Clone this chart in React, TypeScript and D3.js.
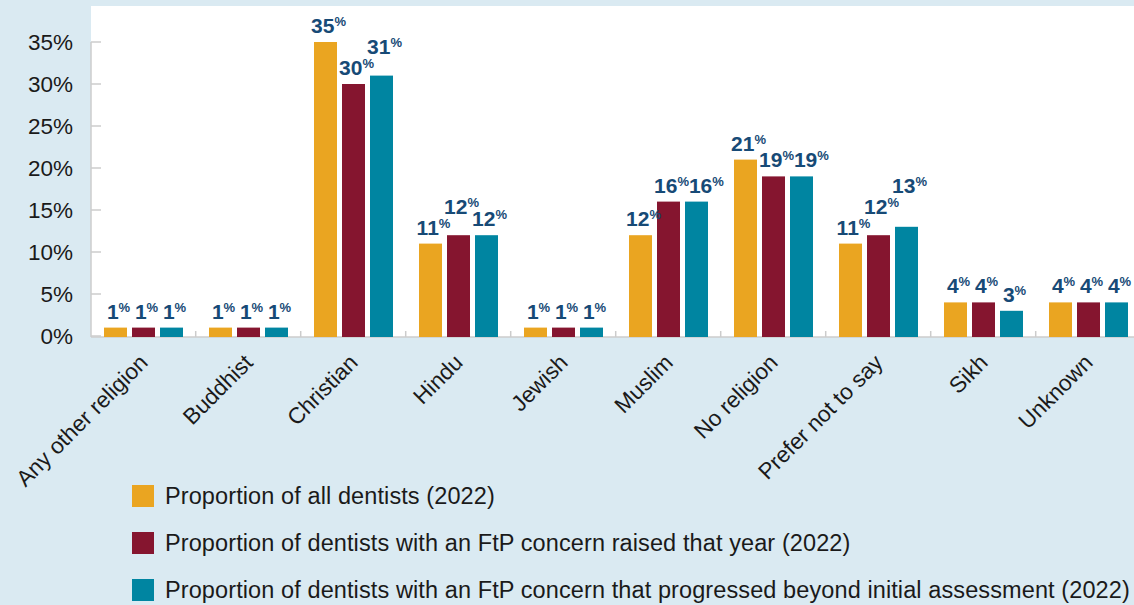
import React from "react";
import * as d3 from "d3";

const categories = ["Any other religion","Buddhist","Christian","Hindu","Jewish","Muslim","No religion","Prefer not to say","Sikh","Unknown"];
const allDentists = [1,1,35,11,1,12,21,11,4,4];
const ftpRaised = [1,1,30,12,1,16,19,12,4,4];
const ftpProgressed = [1,1,31,12,1,16,19,13,3,4];
const seriesNames = [
  "Proportion of all dentists (2022)",
  "Proportion of dentists with an FtP concern raised that year (2022)",
  "Proportion of dentists with an FtP concern that progressed beyond initial assessment (2022)",
];
const seriesColors = ["#EAA521", "#85152F", "#0085A1"];
const yTicks = [0,5,10,15,20,25,30,35];

const W = 1134, H = 605;
const font = "'Liberation Sans', Arial, Helvetica, sans-serif";
const LABEL_FS = 21;
const PCT_FS = 13;

function labelWidth(v: number) {
  return String(v).length * LABEL_FS * 0.556 + PCT_FS * 0.889;
}

export default function App() {
  const series = [allDentists, ftpRaised, ftpProgressed];
  const x = d3.scaleBand<string>().domain(categories).range([90.7, 1140.7]).paddingInner(0).paddingOuter(0);
  const inner = d3.scaleBand<number>().domain([0,1,2]).range([13.3, 13.3 + 79]).paddingInner(5/28).paddingOuter(0);
  const y = d3.scaleLinear().domain([0, 35]).range([336, 42]);

  // label placement with simple collision avoidance (raise or nudge right)
  const labels = categories.map((c, i) => {
    const out: { v: number; cx: number; base: number }[] = [];
    series.forEach((s, k) => {
      const v = s[i];
      let cx = x(c)! + inner(k)! + inner.bandwidth() / 2 + 3;
      let base = y(v) - 9;
      if (k > 0) {
        const p = out[k - 1];
        const pw = labelWidth(p.v), w = labelWidth(v);
        const overlapX = (p.cx + pw / 2) - (cx - w / 2);
        if (overlapX > 1 && Math.abs(p.base - base) < 11) {
          if (p.v === v) cx += overlapX;
          else base = p.base - 21;
        }
      }
      out.push({ v, cx, base });
    });
    return out;
  });

  return (
    <svg width={W} height={H} style={{position:"absolute", left:0, top:0, display:"block"}} fontFamily={font}>
      <rect x={0} y={0} width={W} height={H} fill="#DAEAF2" />
      <rect x={91} y={6} width={W - 91} height={331} fill="#FFFFFF" />
      {/* y axis */}
      <line x1={91} x2={91} y1={y(35)} y2={337} stroke="#CCCCCC" strokeWidth={1.5} />
      {yTicks.map(t => (
        <g key={t}>
          <line x1={91} x2={101} y1={y(t)} y2={y(t)} stroke="#CCCCCC" strokeWidth={1.5} />
          <text x={73} y={y(t)} dy="0.36em" textAnchor="end" fontSize={22.5} fill="#1a1a1a">{t}%</text>
        </g>
      ))}
      {/* x axis */}
      <line x1={91} x2={W} y1={337} y2={337} stroke="#CCCCCC" strokeWidth={1.5} />
      {categories.map((c, i) => (
        i > 0 ? <line key={"t"+c} x1={x(c)!} x2={x(c)!} y1={331} y2={337} stroke="#CCCCCC" strokeWidth={1.5} /> : null
      ))}
      {/* bars */}
      {categories.map((c, i) => (
        <g key={c} transform={`translate(${x(c)},0)`}>
          {series.map((s, k) => (
            <rect key={k} x={inner(k)!} y={y(s[i])} width={inner.bandwidth()} height={y(0) - y(s[i]) + 1} fill={seriesColors[k]} />
          ))}
        </g>
      ))}
      {labels.map((g, i) => g.map((l, k) => (
        <text key={"l"+i+"-"+k} x={l.cx} y={l.base} textAnchor="middle" fontSize={LABEL_FS} fontWeight="bold" fill="#174A76">
          {l.v}<tspan fontSize={PCT_FS} dy={-7}>%</tspan>
        </text>
      )))}
      {/* x labels */}
      {categories.map(c => {
        const cx = x(c)! + x.bandwidth()/2 + 6;
        const cy = 364;
        return (
          <text key={"x"+c} transform={`translate(${cx},${cy}) rotate(-45)`} textAnchor="end" fontSize={22.5} fill="#1a1a1a">{c}</text>
        );
      })}
      {/* legend */}
      {seriesNames.map((n, k) => (
        <g key={n} transform={`translate(132,${485 + k*47})`}>
          <rect x={0} y={0} width={22} height={22} fill={seriesColors[k]} />
          <text x={33} y={19} fontSize={23.5} fill="#1a1a1a" letterSpacing={0.1}>{n}</text>
        </g>
      ))}
    </svg>
  );
}
